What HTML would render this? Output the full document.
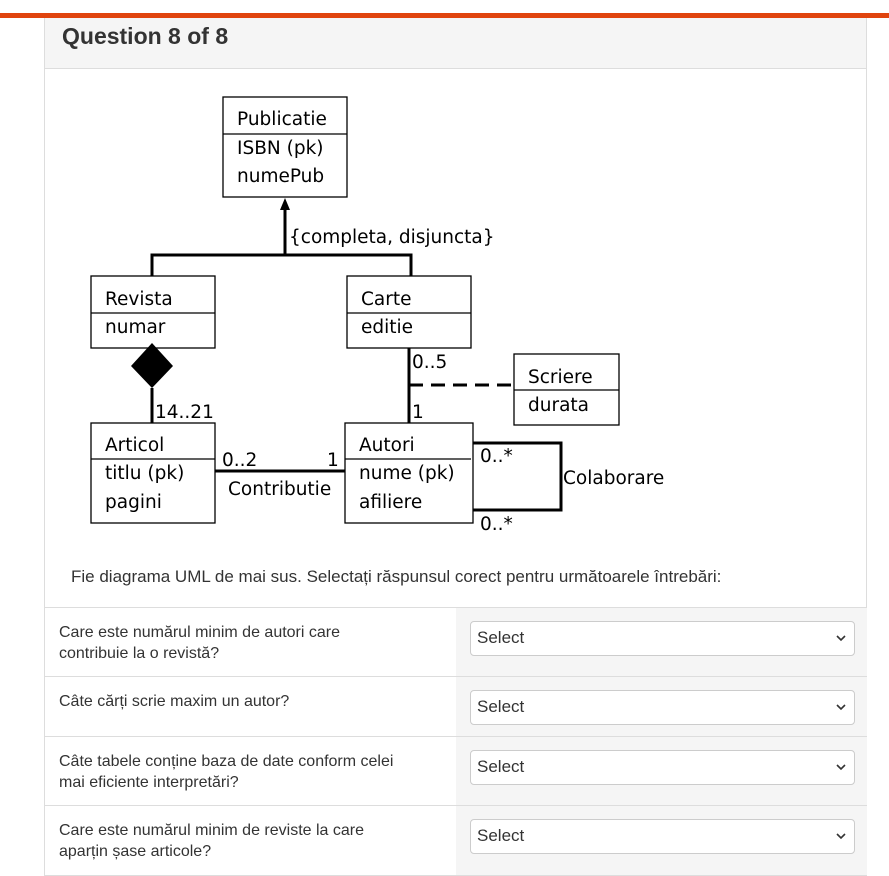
<!DOCTYPE html>
<html><head><meta charset="utf-8"><style>
body{margin:0;width:889px;height:876px;background:#fff;font-family:"Liberation Sans",sans-serif;position:relative;overflow:hidden}
.bar{position:absolute;left:0;top:13px;width:889px;height:5px;background:#e0440e}
.card{position:absolute;left:44px;top:18px;width:823px;height:858px;border:1px solid #ddd;border-top:none;box-sizing:border-box}
.hdr{position:absolute;left:0;top:0;width:100%;height:50px;background:#f5f5f5;border-bottom:1px solid #ddd}
.hdr h3{margin:0;position:absolute;left:17px;top:5px;font-size:23px;font-weight:bold;color:#333}
.intro{position:absolute;left:26px;top:549px;font-size:17px;color:#333}
.row{position:absolute;left:0;width:822px;border-top:1px solid #ddd}
.row .q{position:absolute;left:14px;top:14px;width:340px;font-size:16px;line-height:21px;color:#333}
.row .g{position:absolute;left:411px;top:0;right:0;bottom:0;background:#f5f5f5}
.sel{position:absolute;left:425px;width:385px;height:35px;border:1px solid #ccc;border-radius:4px;background:#fff;box-sizing:border-box;font-size:17px;color:#333;padding:6px 6px}
.sel svg{position:absolute;right:8px;top:13px}
svg text{font-family:"DejaVu Sans","Liberation Sans",sans-serif;font-size:18.5px;fill:#000}
</style></head><body>
<div class="bar"></div>
<div class="card">
<div class="hdr"><h3>Question 8 of 8</h3></div>
<div class="intro">Fie diagrama UML de mai sus. Selectați răspunsul corect pentru următoarele întrebări:</div>
<div class="row" style="top:589px;height:69px"><div class="g"></div><div class="q">Care este numărul minim de autori care contribuie la o revistă?</div><div class="sel" style="top:13px">Select<svg width="10" height="7"><polyline points="1,1 5,5 9,1" fill="none" stroke="#333" stroke-width="1.6"/></svg></div></div>
<div class="row" style="top:658px;height:60px"><div class="g"></div><div class="q">Câte cărți scrie maxim un autor?</div><div class="sel" style="top:13px">Select<svg width="10" height="7"><polyline points="1,1 5,5 9,1" fill="none" stroke="#333" stroke-width="1.6"/></svg></div></div>
<div class="row" style="top:718px;height:69px"><div class="g"></div><div class="q">Câte tabele conține baza de date conform celei mai eficiente interpretări?</div><div class="sel" style="top:13px">Select<svg width="10" height="7"><polyline points="1,1 5,5 9,1" fill="none" stroke="#333" stroke-width="1.6"/></svg></div></div>
<div class="row" style="top:787px;height:69px"><div class="g"></div><div class="q">Care este numărul minim de reviste la care aparțin șase articole?</div><div class="sel" style="top:13px">Select<svg width="10" height="7"><polyline points="1,1 5,5 9,1" fill="none" stroke="#333" stroke-width="1.6"/></svg></div></div>
</div>
<svg style="position:absolute;left:0;top:0" width="889" height="876">
<g fill="#fff" stroke="#000" stroke-width="1.3">
<rect x="223" y="97" width="124" height="100"/><line x1="223" y1="134" x2="347" y2="134"/>
<rect x="91" y="276" width="124" height="72"/><line x1="91" y1="313" x2="215" y2="313"/>
<rect x="347" y="276" width="124" height="72"/><line x1="347" y1="313" x2="471" y2="313"/>
<rect x="514" y="354" width="105" height="71"/><line x1="514" y1="390" x2="619" y2="390"/>
<rect x="91" y="423" width="124" height="100"/><line x1="91" y1="459" x2="215" y2="459"/>
<rect x="345" y="423" width="128" height="100"/><line x1="345" y1="459" x2="471" y2="459"/>
</g>
<g stroke="#000" stroke-width="3" fill="none">
<line x1="285" y1="208" x2="285" y2="255"/>
<polyline points="152,276 152,255 411,255 411,276"/>
<line x1="152" y1="388" x2="152" y2="423"/>
<line x1="409" y1="348" x2="409" y2="423"/>
<line x1="409" y1="385" x2="514" y2="385" stroke-dasharray="14,8"/>
<line x1="215" y1="471" x2="345" y2="471"/>
<polyline points="473,443 561,443 561,510 473,510"/>
</g>
<polygon points="285,198 280,210 290,210" fill="#000"/>
<polygon points="152,343 173,366 152,388 131,366" fill="#000"/>
<text x="237" y="125">Publicatie</text><text x="237" y="154">ISBN (pk)</text><text x="237" y="182">numePub</text>
<text x="289" y="243">{completa, disjuncta}</text>
<text x="105" y="305">Revista</text><text x="105" y="333">numar</text>
<text x="361" y="305">Carte</text><text x="361" y="333">editie</text>
<text x="412" y="368">0..5</text><text x="412" y="418">1</text>
<text x="528" y="383">Scriere</text><text x="528" y="411">durata</text>
<text x="155" y="418">14..21</text>
<text x="105" y="451">Articol</text><text x="105" y="479">titlu (pk)</text><text x="105" y="508">pagini</text>
<text x="222" y="466">0..2</text><text x="327" y="466">1</text><text x="228" y="495">Contributie</text>
<text x="359" y="451">Autori</text><text x="359" y="479">nume (pk)</text><text x="359" y="508">afiliere</text>
<text x="480" y="462">0..*</text><text x="480" y="530">0..*</text>
<text x="563" y="484">Colaborare</text>
</svg>
</body></html>
